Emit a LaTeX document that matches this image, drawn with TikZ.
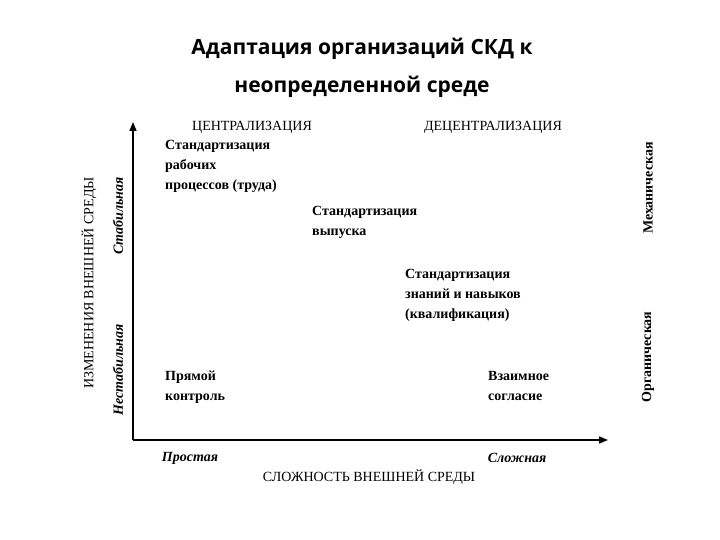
\documentclass[tikz,border=0pt]{standalone}
\usepackage{fontspec}
\setmainfont{Liberation Serif}
\newfontfamily\titlefont{Open Sans}
\usetikzlibrary{arrows.meta}
\begin{document}
\begin{tikzpicture}[x=1pt,y=-1pt,
  lbl/.style={font=\fontsize{14}{20}\selectfont\bfseries,anchor=north west,align=left,inner sep=0},
  captext/.style={font=\fontsize{14}{16}\selectfont,inner sep=0},
  ital/.style={font=\fontsize{14}{16}\selectfont\bfseries\itshape,inner sep=0},
  ax/.style={line width=1.6pt,-{Triangle[length=9pt,width=7pt]}}]
\useasboundingbox (0,0) rectangle (720,540);
\node[font=\titlefont\fontsize{21}{38}\selectfont\bfseries,align=center] (title) at (362,68) {Адаптация организаций СКД к\\неопределенной среде};
\coordinate (o) at (133,440);
\coordinate (top) at (133,122);
\coordinate (right) at (608,440);
\draw[ax] (o) -- (top);
\draw[ax] (o) -- (right);
\node[captext] (c) at (252,127) {ЦЕНТРАЛИЗАЦИЯ};
\node[captext] (d) at (493,127) {ДЕЦЕНТРАЛИЗАЦИЯ};
\node[lbl] (a1) at (165,140) {Стандартизация\\рабочих\\процессов (труда)};
\node[lbl] (a2) at (312,206) {Стандартизация\\выпуска};
\node[lbl] (a3) at (405,269) {Стандартизация\\знаний и навыков\\(квалификация)};
\node[lbl] (a4) at (165,371) {Прямой\\контроль};
\node[lbl] (a5) at (488,371) {Взаимное\\согласие};
\node[ital] (s1) at (190,458) {Простая};
\node[ital] (s2) at (517,458) {Сложная};
\node[captext] (sx) at (369,477) {СЛОЖНОСТЬ ВНЕШНЕЙ СРЕДЫ};
\node[captext,rotate=90] (iz) at (89,283) {ИЗМЕНЕНИЯ ВНЕШНЕЙ СРЕДЫ};
\node[ital,rotate=90] (st) at (118,216) {Стабильная};
\node[ital,rotate=90] (ns) at (118,370) {Нестабильная};
\node[captext,font=\fontsize{14}{16}\selectfont\bfseries,rotate=90] (m) at (648,188) {Механическая};
\node[captext,font=\fontsize{14}{16}\selectfont\bfseries,rotate=90] (org) at (648,357) {Органическая};
\end{tikzpicture}
\end{document}
